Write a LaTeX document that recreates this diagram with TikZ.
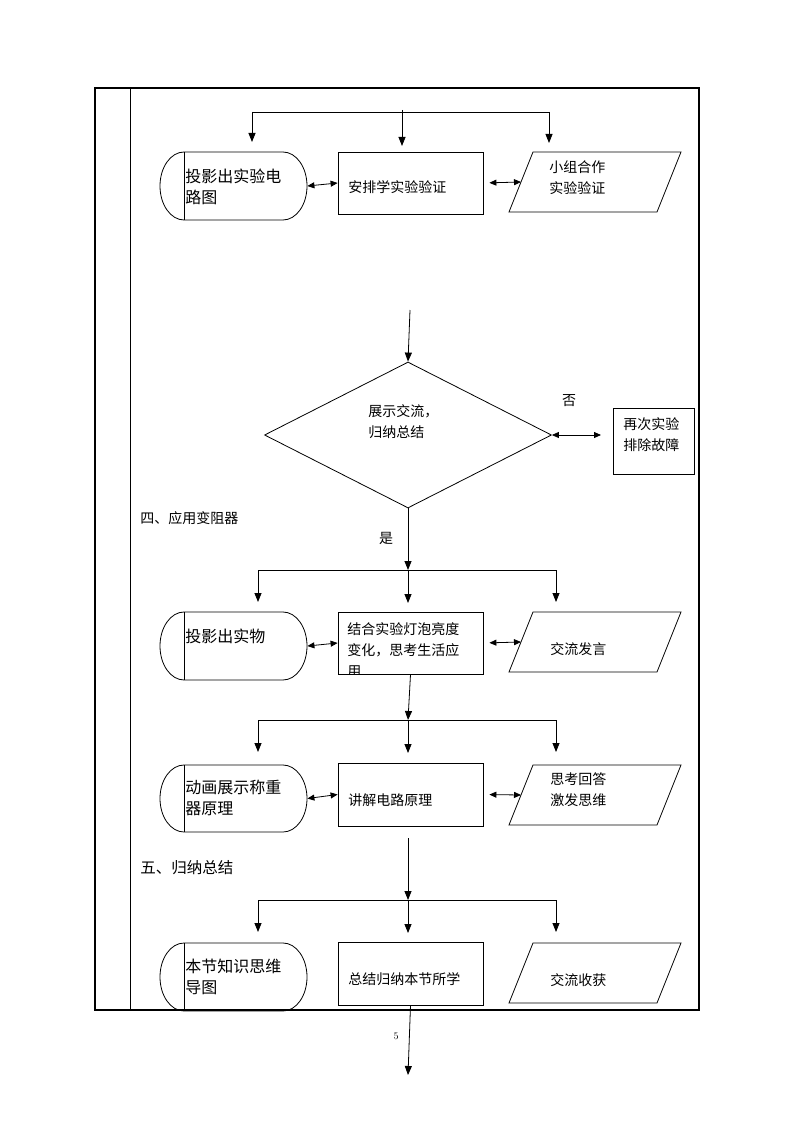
\documentclass[tikz,border=0pt]{standalone}
\usepackage{fontspec}
\newfontfamily\cjk{Noto Sans CJK SC}
\usetikzlibrary{arrows.meta,calc,shapes.geometric}

\newcommand\stadiumshape[5]{% name, x1, y1, x2, y2
  \pgfmathsetmacro\sry{(#5-#3)/2}
  \node[minimum width={(#4-#2)*1pt}, minimum height={(#5-#3)*1pt}, inner sep=0pt] (#1) at ({(#2+#4)/2},{(#3+#5)/2}) {};
  \draw ({#2+24},#3) -- ({#4-24},#3) arc[start angle=90,end angle=-90,x radius=24pt,y radius=\sry pt]
        -- ({#2+24},#5) arc[start angle=270,end angle=90,x radius=24pt,y radius=\sry pt] -- cycle;
  \draw ({#2+24},#3) -- ({#2+24},#5);
}
\newcommand\paralshape[5]{% name, x1 (bottom-left), y1 top, x2 (top-right), y2 bottom
  \node[minimum width={(#4-#2)*1pt}, minimum height={(#5-#3)*1pt}, inner sep=0pt] (#1) at ({(#2+#4)/2},{(#3+#5)/2}) {};
  \coordinate (#1-w) at ({#2+12},{(#3+#5)/2});
  \draw ({#2+24},#3) -- (#4,#3) -- ({#4-24},#5) -- (#2,#5) -- cycle;
}

\begin{document}
\begin{tikzpicture}[x=1pt,y=-1pt,
  line width=0.8pt,
  arr/.style={-{Triangle[length=9pt,width=7pt]}},
  darr/.style={{Triangle[length=7pt,width=6pt]}-{Triangle[length=7pt,width=6pt]}},
  txt/.style={font=\cjk\fontsize{14}{21}\selectfont, align=left, inner sep=0pt, anchor=west},
  big/.style={font=\cjk\fontsize{16}{21}\selectfont, align=left, inner sep=0pt, anchor=west},
  box/.style={draw, inner sep=0pt},
  frame/.style={line width=1.1pt},
]
\useasboundingbox (0,0) rectangle (794,1123);
\fill[white] (0,0) rectangle (794,1123);

% frame
\draw[frame] (95,88) rectangle (699,1010);
\draw (130,88) -- (130,1010);

% ---------- row 1 ----------
\stadiumshape{s1}{160}{152}{307}{220}
\node[big] (s1t) at (185,187) {投影出实验电\\路图};
\node[box, minimum width=145pt, minimum height=62pt] (r1) at (410.5,183) {};
\node[txt] (r1t) at (348,187) {安排学实验验证};
\paralshape{p1}{509}{152}{681}{212}
\node[txt] (p1t) at (549,178) {小组合作\\实验验证};

\coordinate (t1) at (402,110);
\coordinate (h1l) at (252,112);
\coordinate (h1c) at (402,112);
\coordinate (h1r) at (549,112);
\coordinate (a1l) at (252,142);
\coordinate (a1c) at (402,146);
\coordinate (a1r) at (549,143);
\draw (h1l) -- (h1r);
\draw[arr] (h1l) -- (a1l);
\draw[arr] (t1) -- (a1c);
\draw[arr] (h1r) -- (a1r);
\draw[darr] (s1.east) -- (r1.west);
\draw[darr, shorten <=6pt] (r1.east) -- (p1-w);

% ---------- decision ----------
\node[diamond, draw, minimum width=287pt, minimum height=146pt, inner sep=0pt] (d) at (408,435) {};
\node[txt] (dt) at (368,422) {展示交流，\\归纳总结};
\coordinate (din) at (410,310);
\draw[arr] (din) -- (d.north);
\node[font=\cjk\fontsize{14}{16}\selectfont, inner sep=0pt] (no) at (569,401) {否};
\node[box, minimum width=81pt, minimum height=66pt] (rb) at (653.5,441) {};
\node[txt] (rbt) at (623,435) {再次实验\\排除故障};
\coordinate (nb) at (601,435);
\draw[darr] (d.east) -- (nb);

\node[txt] (sec4) at (140,518) {四、应用变阻器};
\node[font=\cjk\fontsize{14}{16}\selectfont, inner sep=0pt] (yes) at (386,538) {是};

% ---------- row 2 ----------
\coordinate (h2l) at (258,570);
\coordinate (h2c) at (408,570);
\coordinate (h2r) at (556,570);
\coordinate (a2l) at (258,602);
\coordinate (a2c) at (408,603);
\coordinate (a2r) at (556,602);
\draw[arr] (d.south) -- (h2c);
\draw (h2l) -- (h2r);
\draw[arr] (h2l) -- (a2l);
\draw[arr] (h2c) -- (a2c);
\draw[arr] (h2r) -- (a2r);

\stadiumshape{s2}{160}{612}{307}{680}
\node[big] (s2t) at (185,636) {投影出实物};
\node[box, minimum width=145pt, minimum height=62pt] (r2) at (410.5,643) {};
\begin{scope}
  \clip (338,612) rectangle (483,673.5);
  \node[txt] (r2t) at (347,650) {结合实验灯泡亮度\\变化，思考生活应\\用};
\end{scope}
\paralshape{p2}{509}{612}{681}{672}
\node[txt] (p2t) at (550,649) {交流发言};
\draw[darr] (s2.east) -- (r2.west);
\draw[darr, shorten <=6pt] (r2.east) -- (p2-w);

% ---------- row 3 ----------
\coordinate (h3l) at (258,720);
\coordinate (h3c) at (408,720);
\coordinate (h3r) at (556,720);
\coordinate (a3l) at (258,752);
\coordinate (a3c) at (408,753);
\coordinate (a3r) at (556,752);
\draw[arr] (r2.south) -- (h3c);
\draw (h3l) -- (h3r);
\draw[arr] (h3l) -- (a3l);
\draw[arr] (h3c) -- (a3c);
\draw[arr] (h3r) -- (a3r);

\stadiumshape{s3}{160}{765}{307}{832}
\node[big] (s3t) at (185,798) {动画展示称重\\器原理};
\node[box, minimum width=145pt, minimum height=63pt] (r3) at (410.5,794.5) {};
\node[txt] (r3t) at (348,800) {讲解电路原理};
\paralshape{p3}{509}{765}{681}{825}
\node[txt] (p3t) at (550,790) {思考回答\\激发思维};
\draw[darr] (s3.east) -- (r3.west);
\draw[darr, shorten <=6pt] (r3.east) -- (p3-w);

% ---------- row 4 ----------
\node[font=\cjk\fontsize{15.5}{18}\selectfont, inner sep=0pt, anchor=west] (sec5) at (140,868) {五、归纳总结};
\coordinate (c4) at (408,838);
\coordinate (h4l) at (258,900);
\coordinate (h4c) at (408,900);
\coordinate (h4r) at (556,900);
\coordinate (a4l) at (258,932);
\coordinate (a4c) at (408,933);
\coordinate (a4r) at (556,932);
\draw[arr] (c4) -- (h4c);
\draw (h4l) -- (h4r);
\draw[arr] (h4l) -- (a4l);
\draw[arr] (h4c) -- (a4c);
\draw[arr] (h4r) -- (a4r);

\stadiumshape{s4}{160}{943}{307}{1011}
\node[big] (s4t) at (185,977) {本节知识思维\\导图};
\node[box, minimum width=145pt, minimum height=63pt] (r4) at (410.5,973.5) {};
\node[txt] (r4t) at (348,979) {总结归纳本节所学};
\paralshape{p4}{509}{943}{681}{1003}
\node[txt] (p4t) at (550,980) {交流收获};

\coordinate (end) at (408,1075);
\draw[arr] (r4.south) -- (end);
\node[font=\fontsize{10}{12}\selectfont, inner sep=0pt] (pg) at (396,1036) {5};
\end{tikzpicture}
\end{document}
